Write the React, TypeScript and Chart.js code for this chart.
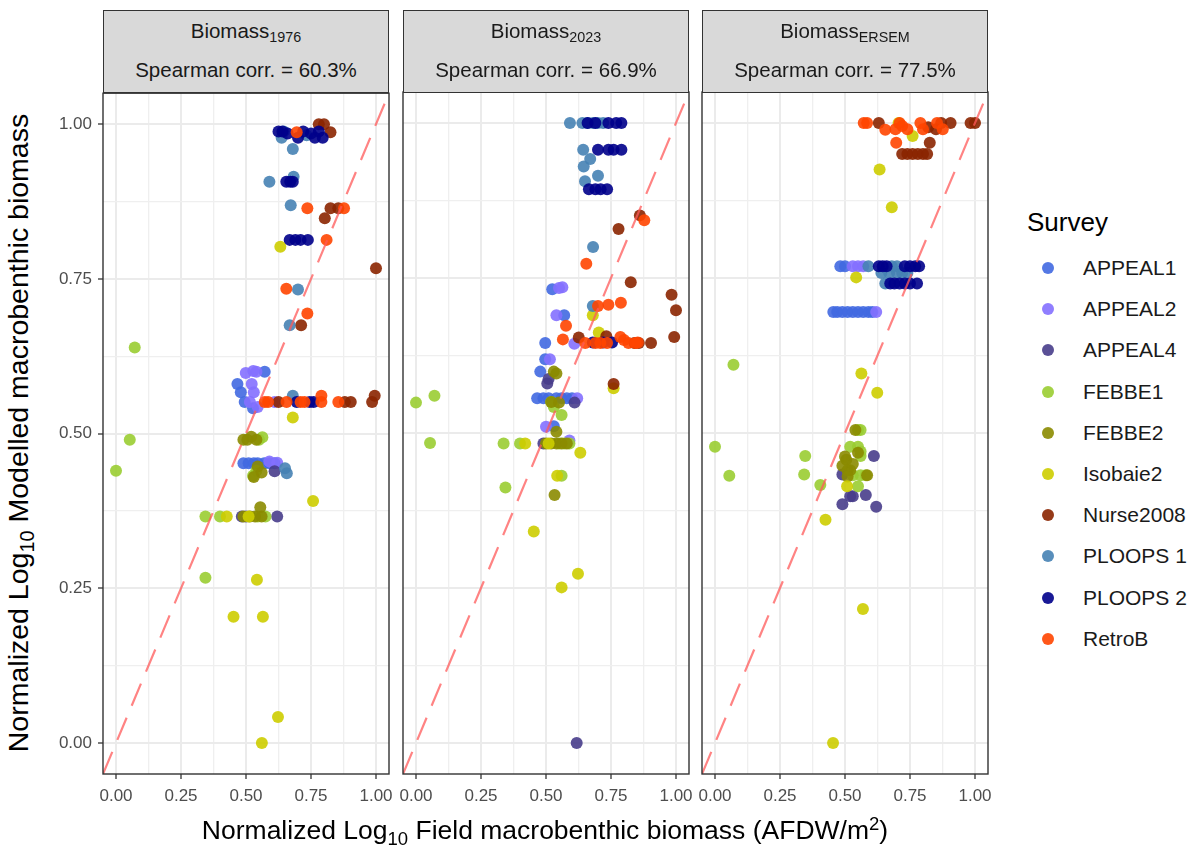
import React, { useEffect, useRef } from 'react';
import { Chart, registerables } from 'chart.js';

Chart.register(...registerables);

// ---------- Data ----------
const SURVEYS = ['APPEAL1', 'APPEAL2', 'APPEAL4', 'FEBBE1', 'FEBBE2', 'Isobaie2', 'Nurse2008', 'PLOOPS 1', 'PLOOPS 2', 'RetroB'];
const SURVEY_COLORS = ['#4169E1', '#8470FF', '#483D8B', '#9ACD32', '#8B8B00', '#CDCD00', '#8B2500', '#4682B4', '#00008B', '#FF4500'];
const PANEL_SUBSCRIPTS = ['1976', '2023', 'ERSEM'];
const PANEL_SPEARMAN = ['60.3%', '66.9%', '77.5%'];
const AXIS_BREAKS = [0, 0.125, 0.25, 0.375, 0.5, 0.625, 0.75, 0.875, 1];
const REF_LINE_X = [-0.05, 1.05];
const REF_LINE_Y = [-0.05, 1.05];

// Panel 1: Biomass 1976  ([field, modelled])
const P1_APPEAL1 = [[0.572, 0.6], [0.467, 0.58], [0.48, 0.567], [0.495, 0.551], [0.527, 0.541], [0.49, 0.452], [0.51, 0.452], [0.53, 0.452], [0.545, 0.452], [0.57, 0.452], [0.59, 0.452], [0.61, 0.452]];
const P1_APPEAL2 = [[0.499, 0.598], [0.528, 0.601], [0.54, 0.6], [0.522, 0.58], [0.53, 0.567], [0.515, 0.551], [0.545, 0.543], [0.61, 0.551], [0.62, 0.453], [0.59, 0.455]];
const P1_APPEAL4 = [[0.61, 0.439], [0.484, 0.366], [0.62, 0.366], [0.5, 0.366]];
const P1_FEBBE1 = [[0.072, 0.639], [0.053, 0.49], [0.0, 0.44], [0.344, 0.366], [0.4, 0.366], [0.344, 0.267], [0.563, 0.494], [0.55, 0.49], [0.527, 0.432], [0.54, 0.44], [0.575, 0.366], [0.545, 0.366]];
const P1_FEBBE2 = [[0.49, 0.49], [0.505, 0.49], [0.52, 0.495], [0.54, 0.49], [0.545, 0.447], [0.56, 0.437], [0.53, 0.43], [0.49, 0.366], [0.515, 0.366], [0.535, 0.366], [0.555, 0.381], [0.56, 0.366]];
const P1_ISOBAIE2 = [[0.632, 0.802], [0.68, 0.526], [0.758, 0.391], [0.426, 0.366], [0.51, 0.366], [0.542, 0.264], [0.452, 0.204], [0.565, 0.204], [0.623, 0.042], [0.561, 0.0]];
const P1_NURSE2008 = [[0.78, 1.0], [0.8, 1.0], [0.825, 0.987], [0.825, 0.864], [0.855, 0.864], [0.803, 0.848], [1.0, 0.767], [0.712, 0.675], [0.625, 0.551], [0.903, 0.551], [0.985, 0.551], [0.995, 0.561], [0.88, 0.551]];
const P1_PLOOPS1 = [[0.637, 0.978], [0.645, 0.988], [0.733, 0.982], [0.68, 0.96], [0.59, 0.907], [0.683, 0.915], [0.672, 0.869], [0.7, 0.733], [0.668, 0.675], [0.68, 0.561], [0.65, 0.444], [0.657, 0.436]];
const P1_PLOOPS2 = [[0.625, 0.988], [0.64, 0.988], [0.66, 0.985], [0.7, 0.978], [0.72, 0.988], [0.75, 0.985], [0.765, 0.978], [0.78, 0.988], [0.795, 0.978], [0.655, 0.907], [0.67, 0.907], [0.68, 0.907], [0.668, 0.813], [0.69, 0.813], [0.71, 0.813], [0.738, 0.813], [0.695, 0.551], [0.745, 0.551], [0.76, 0.551]];
const P1_RETROB = [[0.695, 0.987], [0.736, 0.864], [0.877, 0.864], [0.81, 0.813], [0.655, 0.734], [0.736, 0.694], [0.572, 0.551], [0.585, 0.551], [0.656, 0.551], [0.71, 0.551], [0.725, 0.551], [0.79, 0.551], [0.79, 0.561], [0.855, 0.551]];

// Panel 2: Biomass 2023
const P2_APPEAL1 = [[0.524, 0.732], [0.57, 0.69], [0.497, 0.645], [0.497, 0.619], [0.478, 0.599], [0.466, 0.556], [0.49, 0.556], [0.51, 0.556], [0.54, 0.556], [0.56, 0.556], [0.58, 0.556], [0.6, 0.556], [0.53, 0.511]];
const P2_APPEAL2 = [[0.563, 0.735], [0.55, 0.734], [0.54, 0.69], [0.609, 0.644], [0.515, 0.619], [0.62, 0.556], [0.5, 0.51], [0.59, 0.488]];
const P2_APPEAL4 = [[0.51, 0.587], [0.61, 0.549], [0.49, 0.483], [0.618, 0.0], [0.505, 0.58]];
const P2_FEBBE1 = [[0.0, 0.549], [0.071, 0.56], [0.054, 0.484], [0.337, 0.483], [0.4, 0.483], [0.53, 0.542], [0.56, 0.529], [0.55, 0.483], [0.57, 0.483], [0.59, 0.483], [0.344, 0.412], [0.56, 0.431], [0.52, 0.55]];
const P2_FEBBE2 = [[0.53, 0.599], [0.54, 0.596], [0.52, 0.55], [0.55, 0.549], [0.54, 0.502], [0.5, 0.483], [0.52, 0.483], [0.54, 0.483], [0.56, 0.483], [0.58, 0.483], [0.533, 0.4]];
const P2_ISOBAIE2 = [[0.68, 0.69], [0.703, 0.662], [0.76, 0.572], [0.42, 0.483], [0.51, 0.483], [0.632, 0.468], [0.543, 0.431], [0.453, 0.341], [0.623, 0.273], [0.56, 0.251]];
const P2_NURSE2008 = [[0.861, 0.851], [0.779, 0.829], [0.826, 0.743], [0.983, 0.723], [1.0, 0.698], [0.993, 0.655], [0.626, 0.654], [0.732, 0.656], [0.857, 0.645], [0.904, 0.645], [0.76, 0.579], [0.84, 0.645]];
const P2_PLOOPS1 = [[0.592, 1.0], [0.64, 1.0], [0.66, 1.0], [0.68, 1.0], [0.7, 1.0], [0.72, 1.0], [0.643, 0.957], [0.67, 0.942], [0.645, 0.93], [0.7, 0.915], [0.65, 0.906], [0.681, 0.8], [0.68, 0.705]];
const P2_PLOOPS2 = [[0.66, 1.0], [0.69, 1.0], [0.74, 1.0], [0.77, 1.0], [0.79, 1.0], [0.7, 0.957], [0.74, 0.957], [0.76, 0.957], [0.79, 0.957], [0.665, 0.893], [0.69, 0.893], [0.71, 0.893], [0.735, 0.893], [0.68, 0.646], [0.72, 0.646], [0.754, 0.646]];
const P2_RETROB = [[0.878, 0.843], [0.655, 0.773], [0.7, 0.705], [0.74, 0.707], [0.788, 0.71], [0.577, 0.673], [0.565, 0.651], [0.651, 0.645], [0.69, 0.645], [0.709, 0.645], [0.735, 0.645], [0.786, 0.655], [0.8, 0.65], [0.817, 0.645], [0.844, 0.645], [0.853, 0.646]];

// Panel 3: Biomass ERSEM
const P3_APPEAL1 = [[0.482, 0.769], [0.5, 0.769], [0.455, 0.695], [0.47, 0.695], [0.49, 0.695], [0.51, 0.695], [0.53, 0.695], [0.55, 0.695], [0.57, 0.695], [0.59, 0.695], [0.605, 0.695]];
const P3_APPEAL2 = [[0.53, 0.769], [0.55, 0.769], [0.57, 0.769], [0.62, 0.695]];
const P3_APPEAL4 = [[0.611, 0.463], [0.49, 0.433], [0.52, 0.398], [0.53, 0.398], [0.58, 0.4], [0.49, 0.385], [0.62, 0.381]];
const P3_FEBBE1 = [[0.071, 0.61], [0.0, 0.478], [0.055, 0.431], [0.347, 0.463], [0.343, 0.433], [0.405, 0.416], [0.56, 0.505], [0.55, 0.505], [0.52, 0.478], [0.55, 0.478], [0.56, 0.463], [0.53, 0.432], [0.56, 0.432], [0.58, 0.432], [0.55, 0.414], [0.56, 0.47]];
const P3_FEBBE2 = [[0.54, 0.505], [0.55, 0.468], [0.505, 0.457], [0.49, 0.447], [0.51, 0.44], [0.52, 0.44], [0.53, 0.45], [0.585, 0.432], [0.51, 0.43], [0.5, 0.462]];
const P3_ISOBAIE2 = [[0.706, 1.0], [0.76, 0.979], [0.633, 0.925], [0.68, 0.864], [0.543, 0.751], [0.563, 0.596], [0.624, 0.565], [0.508, 0.414], [0.425, 0.36], [0.569, 0.216], [0.454, 0.0]];
const P3_NURSE2008 = [[0.63, 1.0], [0.82, 0.993], [0.85, 0.99], [0.906, 1.0], [0.983, 1.0], [1.0, 1.0], [0.826, 0.968], [0.72, 0.95], [0.74, 0.95], [0.76, 0.95], [0.78, 0.95], [0.8, 0.95], [0.816, 0.95], [0.87, 1.0]];
const P3_PLOOPS1 = [[0.59, 0.769], [0.68, 0.769], [0.7, 0.769], [0.64, 0.758], [0.67, 0.758], [0.7, 0.758], [0.72, 0.758], [0.74, 0.758], [0.655, 0.741]];
const P3_PLOOPS2 = [[0.63, 0.769], [0.645, 0.769], [0.66, 0.769], [0.73, 0.769], [0.75, 0.769], [0.77, 0.769], [0.785, 0.769], [0.674, 0.741], [0.69, 0.741], [0.71, 0.741], [0.73, 0.741], [0.75, 0.741], [0.777, 0.741]];
const P3_RETROB = [[0.572, 1.0], [0.585, 1.0], [0.655, 0.989], [0.694, 0.99], [0.71, 1.0], [0.72, 0.995], [0.74, 0.99], [0.79, 1.0], [0.8, 0.99], [0.854, 1.0], [0.876, 0.99], [0.697, 0.968]];

const PANEL_DATA = [
  [P1_APPEAL1, P1_APPEAL2, P1_APPEAL4, P1_FEBBE1, P1_FEBBE2, P1_ISOBAIE2, P1_NURSE2008, P1_PLOOPS1, P1_PLOOPS2, P1_RETROB],
  [P2_APPEAL1, P2_APPEAL2, P2_APPEAL4, P2_FEBBE1, P2_FEBBE2, P2_ISOBAIE2, P2_NURSE2008, P2_PLOOPS1, P2_PLOOPS2, P2_RETROB],
  [P3_APPEAL1, P3_APPEAL2, P3_APPEAL4, P3_FEBBE1, P3_FEBBE2, P3_ISOBAIE2, P3_NURSE2008, P3_PLOOPS1, P3_PLOOPS2, P3_RETROB],
];

// ---------- Layout ----------
const FONT = "'Liberation Sans', Arial, Helvetica, sans-serif";
const PANEL_LEFTS = [103, 403, 702];
const PANEL_W = 286;
const PANEL_TOP = 92;
const PANEL_H = 682;
const STRIP_TOP = 10;
const PAD_TOP = 15;
const PAD_RIGHT = 15;
const X_AXIS_H = 45;
const Y_AXIS_W = 60;
const POINT_R = 6;
const POINT_ALPHA = 0.9;

function hexA(hex: string, a: number) {
  const n = parseInt(hex.slice(1), 16);
  return `rgba(${(n >> 16) & 255},${(n >> 8) & 255},${n & 255},${a})`;
}
function isMajor(v: number) {
  return Math.abs(v * 4 - Math.round(v * 4)) < 1e-6;
}

const panelBorder = {
  id: 'panelBorder',
  afterDraw(chart: any) {
    const { ctx, chartArea } = chart;
    ctx.save();
    ctx.strokeStyle = '#333333';
    ctx.lineWidth = 1.4;
    ctx.strokeRect(chartArea.left, chartArea.top, chartArea.right - chartArea.left, chartArea.bottom - chartArea.top);
    ctx.restore();
  },
};

function gridColor(c: any) {
  const v = c.tick ? c.tick.value : 0;
  return isMajor(v) ? '#EBEBEB' : '#EFEFEF';
}
function gridWidth(c: any) {
  const v = c.tick ? c.tick.value : 0;
  return isMajor(v) ? 2 : 1.3;
}
function tickMarkColor(c: any) {
  const v = c.tick ? c.tick.value : 0;
  return isMajor(v) ? '#333333' : 'rgba(0,0,0,0)';
}

function Panel({ idx }: { idx: number }) {
  const ref = useRef<HTMLCanvasElement | null>(null);
  const showY = idx === 0;
  const padL = showY ? 0 : 15;
  const yW = showY ? Y_AXIS_W : 0;
  const cw = padL + yW + PANEL_W + PAD_RIGHT;
  const ch = PAD_TOP + PANEL_H + X_AXIS_H;
  const left = PANEL_LEFTS[idx] - yW - padL;
  const top = PANEL_TOP - PAD_TOP;

  useEffect(() => {
    if (!ref.current) return;
    const datasets: any[] = [
      {
        label: 'y = x',
        data: REF_LINE_X.map((x, k) => ({ x, y: REF_LINE_Y[k] })),
        showLine: true,
        borderColor: 'rgba(255,90,90,0.75)',
        borderWidth: 2.2,
        borderDash: [24, 13],
        pointRadius: 0,
        fill: false,
        order: 0,
      },
    ];
    SURVEYS.forEach((s, i) => {
      datasets.push({
        label: s,
        data: PANEL_DATA[idx][i].map(([x, y]) => ({ x, y })),
        backgroundColor: hexA(SURVEY_COLORS[i], POINT_ALPHA),
        borderWidth: 0,
        pointRadius: POINT_R,
        pointHoverRadius: POINT_R,
        order: 20 - i,
      });
    });

    const tickFont = { family: FONT, size: 17 };
    const chart = new Chart(ref.current, {
      type: 'scatter',
      data: { datasets },
      plugins: [panelBorder],
      options: {
        animation: false,
        responsive: false,
        events: [],
        layout: { padding: { top: PAD_TOP, right: PAD_RIGHT, bottom: 0, left: padL } },
        plugins: { legend: { display: false }, tooltip: { enabled: false } },
        scales: {
          x: {
            type: 'linear',
            min: -0.05,
            max: 1.05,
            afterBuildTicks: (s: any) => { s.ticks = AXIS_BREAKS.map((v) => ({ value: v })); },
            afterFit: (s: any) => { s.height = X_AXIS_H; },
            border: { display: false },
            grid: { color: gridColor, lineWidth: gridWidth, tickLength: 5, tickColor: tickMarkColor, tickWidth: 1.3 },
            ticks: {
              autoSkip: false, maxRotation: 0, minRotation: 0, padding: 7,
              color: '#4D4D4D', font: tickFont,
              callback: (v: any) => (isMajor(Number(v)) ? Number(v).toFixed(2) : ''),
            },
          },
          y: {
            type: 'linear',
            min: -0.05,
            max: 1.05,
            afterBuildTicks: (s: any) => { s.ticks = AXIS_BREAKS.map((v) => ({ value: v })); },
            afterFit: (s: any) => { s.width = yW; },
            border: { display: false },
            grid: { color: gridColor, lineWidth: gridWidth, tickLength: 5, drawTicks: showY, tickColor: tickMarkColor, tickWidth: 1.3 },
            ticks: {
              display: showY, autoSkip: false, padding: 6,
              color: '#4D4D4D', font: tickFont,
              callback: (v: any) => (isMajor(Number(v)) ? Number(v).toFixed(2) : ''),
            },
          },
        },
      } as any,
    });
    return () => chart.destroy();
  }, [idx]);

  return (
    <canvas
      ref={ref}
      width={cw}
      height={ch}
      style={{ position: 'absolute', left, top, width: cw, height: ch }}
    />
  );
}

function Strip({ idx }: { idx: number }) {
  return (
    <div
      style={{
        position: 'absolute', left: PANEL_LEFTS[idx], top: STRIP_TOP, width: PANEL_W, height: PANEL_TOP - STRIP_TOP + 1,
        boxSizing: 'border-box', background: '#D9D9D9', border: '1.3px solid #333333',
        fontFamily: FONT, color: '#1A1A1A', fontSize: 20.5, textAlign: 'center',
      }}
    >
      <div style={{ position: 'absolute', left: 0, right: 0, top: 8, lineHeight: '24px' }}>
        Biomass<sub style={{ fontSize: '0.7em', verticalAlign: '-0.3em', lineHeight: 0 }}>{PANEL_SUBSCRIPTS[idx]}</sub>
      </div>
      <div style={{ position: 'absolute', left: 0, right: 0, top: 47, lineHeight: '24px' }}>
        Spearman corr. = {PANEL_SPEARMAN[idx]}
      </div>
    </div>
  );
}

function Legend() {
  return (
    <div style={{ position: 'absolute', left: 0, top: 0, fontFamily: FONT }}>
      <div style={{ position: 'absolute', left: 1027, top: 222 - 15, fontSize: 26, lineHeight: '30px', color: '#000', whiteSpace: 'nowrap' }}>Survey</div>
      {SURVEYS.map((s, i) => {
        const cy = 268 + i * 41.2;
        return (
          <React.Fragment key={s}>
            <div style={{ position: 'absolute', left: 1048 - POINT_R, top: cy - POINT_R, width: POINT_R * 2, height: POINT_R * 2, borderRadius: '50%', background: hexA(SURVEY_COLORS[i], POINT_ALPHA) }} />
            <div style={{ position: 'absolute', left: 1083, top: cy - 12, fontSize: 21, lineHeight: '24px', color: '#1A1A1A', whiteSpace: 'nowrap' }}>{s}</div>
          </React.Fragment>
        );
      })}
    </div>
  );
}

export default function App() {
  useEffect(() => {
    document.body.style.margin = '0';
  }, []);
  return (
    <div style={{ position: 'absolute', left: 0, top: 0, width: 1195, height: 848, overflow: 'hidden', background: '#FFFFFF' }}>
      {[0, 1, 2].map((i) => <Panel key={`p${i}`} idx={i} />)}
      {[0, 1, 2].map((i) => <Strip key={`s${i}`} idx={i} />)}
      <div
        style={{
          position: 'absolute', left: 18, top: 433, transform: 'translate(-50%, -50%) rotate(-90deg)',
          whiteSpace: 'nowrap', fontFamily: FONT, fontSize: 28.5, color: '#000', lineHeight: '30px',
        }}
      >
        Normalized Log<sub style={{ fontSize: '0.7em', verticalAlign: '-0.3em', lineHeight: 0 }}>10</sub> Modelled macrobenthic biomass
      </div>
      <div
        style={{
          position: 'absolute', left: 545, top: 830, transform: 'translate(-50%, -50%)',
          whiteSpace: 'nowrap', fontFamily: FONT, fontSize: 26.5, color: '#000', lineHeight: '30px',
        }}
      >
        Normalized Log<sub style={{ fontSize: '0.7em', verticalAlign: '-0.3em', lineHeight: 0 }}>10</sub> Field macrobenthic biomass (AFDW/m<sup style={{ fontSize: '0.7em', verticalAlign: '0.5em', lineHeight: 0 }}>2</sup>)
      </div>
      <Legend />
    </div>
  );
}
